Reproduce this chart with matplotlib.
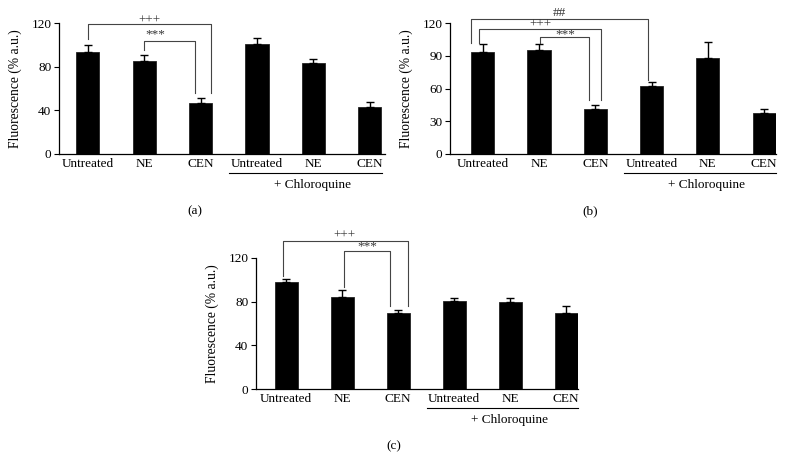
import matplotlib
matplotlib.use('Agg')
import matplotlib.pyplot as plt

plt.rcParams['font.family'] = ['Liberation Serif', 'DejaVu Serif']

# dados
labels = ['Untreated', 'NE', 'CEN', 'Untreated', 'NE', 'CEN']

vals_a = [93.5, 85.5, 47, 101, 83, 43.5]
err_a = [6.5, 5.5, 4, 5, 4, 4]
vals_b = [93, 95, 40.8, 62.4, 88, 37.2]
err_b = [7.5, 5.5, 4.5, 3.3, 15, 3.8]
vals_c = [98.3, 84.6, 69.8, 80.8, 79.6, 69.6]
err_c = [2.5, 5.8, 2.3, 2.5, 3.4, 6.4]

ticks_a = [0, 40, 80, 120]
ticks_b = [0, 30, 60, 90, 120]
ticks_c = [0, 40, 80, 120]

# (x esquerda, x direita, topo, base esq, base dir, texto, x texto, y texto)
brk_a = [(0.0, 2.18, 118.8, 105, 55.7, '+++', 1.09, 122.5),
         (1.0, 1.9, 103.9, 95.3, 55.7, '***', 1.2, 109.5)]
brk_b = [(-0.21, 2.94, 123.7, 101.4, 67.9, '##', 1.37, 129.5),
         (-0.06, 2.11, 114.5, 102, 49.6, '+++', 1.02, 118.5),
         (1.02, 1.89, 106.9, 101.4, 49.6, '***', 1.46, 110.0)]
brk_c = [(-0.06, 2.17, 135.6, 103.5, 76, '+++', 1.04, 140),
         (1.03, 1.85, 126.4, 93, 76, '***', 1.44, 130.5)]

fig = plt.figure(figsize=(7.89, 4.72), dpi=100)

paineis = [
    ([59 / 789, 1 - 154 / 472, 326 / 789, 131 / 472], vals_a, err_a, ticks_a, brk_a, (-0.51, 5.27), '(a)', (195 / 789, 1 - 211 / 472)),
    ([450 / 789, 1 - 154 / 472, 326 / 789, 131 / 472], vals_b, err_b, ticks_b, brk_b, (-0.58, 5.21), '(b)', (590 / 789, 1 - 211 / 472)),
    ([256 / 789, 1 - 389 / 472, 322 / 789, 131 / 472], vals_c, err_c, ticks_c, brk_c, (-0.54, 5.21), '(c)', (394 / 789, 1 - 446 / 472)),
]

for rect, vals, errs, yticks, brks, xlim, cap, cap_pos in paineis:
    ax = fig.add_axes(rect)
    x = list(range(len(vals)))
    ax.bar(x, vals, width=0.41, color='black', edgecolor='#222', linewidth=0.6)
    ax.errorbar(x, vals, yerr=[[0] * len(errs), errs], fmt='none', ecolor='black',
                elinewidth=1, capsize=3, capthick=1)
    ax.set_xlim(*xlim)
    ax.set_ylim(0, 120)
    ax.set_yticks(yticks)
    ax.set_xticks(x)
    ax.set_xticklabels(labels, fontsize=9.5)
    ax.tick_params(axis='x', length=0, pad=3)
    ax.tick_params(axis='y', length=3.5, pad=2, labelsize=9.5, width=0.8)
    for s in ['top', 'right']:
        ax.spines[s].set_visible(False)
    for s in ['left', 'bottom']:
        ax.spines[s].set_linewidth(0.9)
    ax.set_ylabel('Fluorescence (% a.u.)', fontsize=9.8)
    ax.yaxis.set_label_coords(-0.115, 0.5)

    # brackets de significância
    for x1, x2, top, b1, b2, txt, tx, ty in brks:
        ax.plot([x1, x1, x2, x2], [b1, top, top, b2], color='#444', lw=0.8, clip_on=False)
        ax.text(tx, ty, txt, ha='center', va='center', fontsize=9.5, color='#333', clip_on=False)

    # linha + Chloroquine
    ax.plot([2.51, 5.21], [-0.145 * 120, -0.145 * 120], color='black', lw=0.8, clip_on=False)
    ax.text(3.98, -0.24 * 120, '+ Chloroquine', ha='center', va='center', fontsize=9.5)

    fig.text(cap_pos[0], cap_pos[1], cap, ha='center', va='center', fontsize=9.5)

plt.savefig('out.png', dpi=100)
plt.close()
